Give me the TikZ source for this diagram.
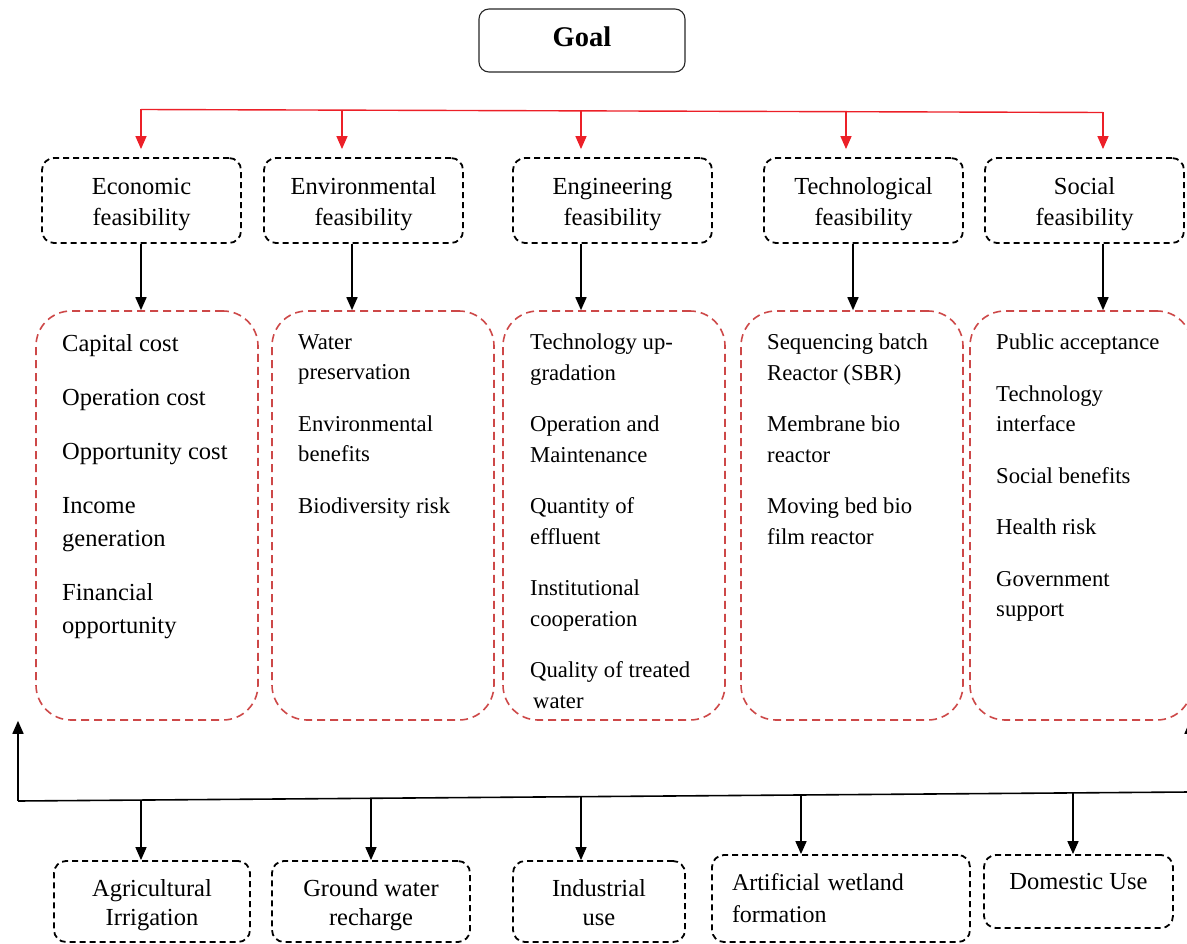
\documentclass[tikz,border=0pt]{standalone}
\usepackage{fontspec}
\setmainfont{Liberation Serif}
\usepackage{tikz}
\usetikzlibrary{arrows.meta}
\definecolor{listred}{RGB}{205,72,72}
\definecolor{arrowred}{RGB}{236,32,40}

\begin{document}
\begin{tikzpicture}[x=1pt,y=-1pt,
	goalbox/.style={draw=black!85,line width=1.1pt,rounded corners=10pt,minimum width=206pt,minimum height=63pt,text depth=8pt,font=\fontsize{28.5}{34}\selectfont\bfseries},
	dashbox/.style={draw,line width=1.8pt,dash pattern=on 6pt off 4pt,rounded corners=12pt,align=center},
	feasbox/.style={dashbox,minimum width=199pt,minimum height=85pt,text height=57pt,text depth=6pt,font=\fontsize{24.5}{32}\selectfont},
	usebox/.style={feasbox,minimum height=81pt,text height=53pt,text depth=6pt,font=\fontsize{24.5}{29}\selectfont},
	listbox/.style={draw=listred,line width=1.6pt,dash pattern=on 8pt off 5pt,rounded corners=35pt,minimum width=222pt,minimum height=409pt},
	listtxt/.style={anchor=north west,inner sep=0pt,align=left,font=\fontsize{22.7}{30.5}\selectfont},
	redarrow/.style={draw=arrowred,line width=1.4pt,-{Triangle[length=13pt,width=11pt]}},
	blkarrow/.style={draw,line width=1.6pt,-{Triangle[length=13pt,width=11pt]}}]
	\useasboundingbox (0,0) rectangle (1187,944);

	\node[goalbox] (goal) at (582,40.5) {Goal};

	\node[feasbox] (econ) at (141.5,200.5) {Economic\\feasibility};
	\node[feasbox] (envir) at (363.5,200.5) {Environmental\\feasibility};
	\node[feasbox] (engin) at (612.5,200.5) {Engineering\\feasibility};
	\node[feasbox] (techn) at (863.5,200.5) {Technological\\feasibility};
	\node[feasbox] (social) at (1084.5,200.5) {Social\\feasibility};

	\node[listbox] (econlist) at (147,515.5) {};
	\node[listbox] (envirlist) at (383,515.5) {};
	\node[listbox] (enginlist) at (614,515.5) {};
	\node[listbox] (technlist) at (852,515.5) {};
	\node[listbox] (sociallist) at (1081,515.5) {};

	\node[listtxt,font=\fontsize{24.5}{33}\selectfont] (econtxt) at (62,334) {Capital cost\\[21pt]Operation cost\\[21pt]Opportunity cost\\[21pt]Income\\generation\\[21pt]Financial\\opportunity};
	\node[listtxt] (envirtxt) at (298,334) {Water\\preservation\\[21pt]Environmental\\benefits\\[21pt]Biodiversity risk};
	\node[listtxt] (engintxt) at (530,334) {Technology up-\\gradation\\[21pt]Operation and\\Maintenance\\[21pt]Quantity of\\effluent\\[21pt]Institutional\\cooperation\\[21pt]Quality of treated\\\hspace{3pt}water};
	\node[listtxt] (techntxt) at (767,334) {Sequencing batch\\Reactor (SBR)\\[21pt]Membrane bio\\reactor\\[21pt]Moving bed bio\\film reactor};
	\node[listtxt] (socialtxt) at (996,334) {Public acceptance\\[21pt]Technology\\interface\\[21pt]Social benefits\\[21pt]Health risk\\[21pt]Government\\support};

	% goal level to feasibility
	\coordinate (r1) at (141,109.5);
	\coordinate (r2) at (342,110);
	\coordinate (r3) at (581,110.5);
	\coordinate (r4) at (846,111.5);
	\coordinate (r5) at (1103,112.5);
	\draw[draw=arrowred,line width=1.4pt] (r1) -- (r5);
	\draw[redarrow,shorten >=8pt] (r1) -- (r1 |- econ.north);
	\draw[redarrow,shorten >=8pt] (r2) -- (r2 |- envir.north);
	\draw[redarrow,shorten >=8pt] (r3) -- (r3 |- engin.north);
	\draw[redarrow,shorten >=8pt] (r4) -- (r4 |- techn.north);
	\draw[redarrow,shorten >=8pt] (r5) -- (r5 |- social.north);

	% feasibility to criteria
	\draw[blkarrow] ([xshift=-0.5pt]econ.south) -- ([xshift=-0.5pt]econ.south |- econlist.north);
	\draw[blkarrow] ([xshift=-11.5pt]envir.south) -- ([xshift=-11.5pt]envir.south |- envirlist.north);
	\draw[blkarrow] ([xshift=-31.5pt]engin.south) -- ([xshift=-31.5pt]engin.south |- enginlist.north);
	\draw[blkarrow] ([xshift=-10.5pt]techn.south) -- ([xshift=-10.5pt]techn.south |- technlist.north);
	\draw[blkarrow] ([xshift=18.5pt]social.south) -- ([xshift=18.5pt]social.south |- sociallist.north);

	\node[usebox,minimum width=196pt] (agri) at (152,901.5) {Agricultural\\Irrigation};
	\node[usebox,minimum width=198pt] (ground) at (371,901.5) {Ground water\\recharge};
	\node[usebox,minimum width=172pt] (indus) at (599,901.5) {Industrial\\use};
	\node[dashbox,minimum height=87pt,align=left,text width=218pt,inner xsep=20pt,font=\fontsize{24}{32}\selectfont] (artif) at (841,898.5) {Artificial wetland\\formation};
	\node[dashbox,minimum width=189pt,minimum height=73pt,text depth=21pt,font=\fontsize{24.5}{29}\selectfont] (dom) at (1078.5,891.5) {Domestic Use};

	% reuse loop
	\coordinate (fbl) at (18,801);
	\coordinate (fbr) at (1190,792);
	\draw[line width=1.6pt] (fbl) -- (fbr);
	\draw[blkarrow] (fbl) -- (fbl |- econlist.south);
	\draw[blkarrow] (fbr) -- (fbr |- sociallist.south);
	\coordinate (u1) at (141,800);
	\coordinate (u2) at (371,798.5);
	\coordinate (u3) at (581,796.5);
	\coordinate (u4) at (801,795);
	\coordinate (u5) at (1073,793);
	\draw[blkarrow] (u1) -- (u1 |- agri.north);
	\draw[blkarrow] (u2) -- (u2 |- ground.north);
	\draw[blkarrow] (u3) -- (u3 |- indus.north);
	\draw[blkarrow] (u4) -- (u4 |- artif.north);
	\draw[blkarrow] (u5) -- (u5 |- dom.north);
\end{tikzpicture}
\end{document}
